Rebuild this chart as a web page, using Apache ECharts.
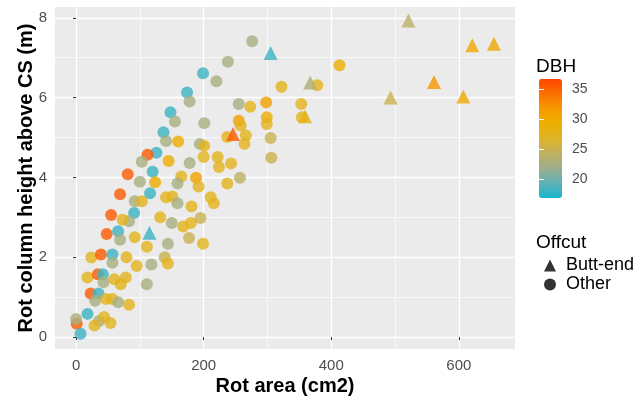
<!DOCTYPE html>
<html>
<head>
<meta charset="utf-8">
<script src="https://cdn.jsdelivr.net/npm/echarts@6/dist/echarts.min.js"></script>
<style>
  html, body { margin: 0; padding: 0; background: #fff; }
  #chart { width: 640px; height: 401px; }
</style>
</head>
<body>
<div id="chart"></div>
<script>
// Butt-end offcuts (triangles)
const buttX = [521, 621, 655, 561, 493, 607, 367, 359, 305, 246, 115];
const buttY = [7.93, 7.31, 7.35, 6.39, 6.00, 6.03, 6.38, 5.53, 7.12, 5.09, 2.61];
const buttDBH = [24, 30, 30, 32, 25, 30, 23, 28, 18, 35.5, 18];

// Other offcuts (circles)
const otherX = [276, 238, 199, 220, 322, 378, 413, 174, 178, 255,
  273, 298, 353, 354, 148, 155, 201, 255, 258, 237,
  266, 264, 299, 299, 305, 306, 137, 141, 160, 194,
  201, 126, 112, 103, 145, 178, 200, 222, 224, 243,
  81, 120, 100, 124, 165, 188, 192, 159, 237, 257,
  69, 116, 92, 103, 141, 151, 159, 181, 211, 216,
  55, 91, 83, 73, 132, 150, 168, 180, 195, 48,
  66, 69, 92, 111, 144, 177, 199, 24, 39, 57,
  57, 79, 95, 118, 139, 144, 18, 34, 42, 43,
  60, 78, 70, 111, 23, 35, 30, 47, 57, 66,
  83, 18, 36, 29, 54, 44, 1, 7, 0];
const otherY = [7.41, 6.90, 6.61, 6.41, 6.27, 6.31, 6.81, 6.13, 5.90, 5.84,
  5.77, 5.88, 5.84, 5.51, 5.63, 5.40, 5.36, 5.42, 5.30, 5.01,
  5.05, 4.84, 5.51, 5.34, 4.99, 4.49, 5.13, 4.91, 4.90, 4.84,
  4.79, 4.62, 4.57, 4.39, 4.41, 4.36, 4.51, 4.51, 4.26, 4.35,
  4.08, 4.14, 3.89, 3.88, 4.02, 3.99, 3.77, 3.85, 3.85, 3.99,
  3.58, 3.60, 3.40, 3.40, 3.50, 3.52, 3.35, 3.27, 3.50, 3.35,
  3.06, 3.11, 2.90, 2.94, 3.00, 2.86, 2.77, 2.86, 2.98, 2.58,
  2.65, 2.44, 2.50, 2.26, 2.34, 2.48, 2.34, 1.99, 2.07, 2.07,
  1.86, 2.00, 1.78, 1.82, 2.00, 1.84, 1.49, 1.57, 1.57, 1.37,
  1.45, 1.49, 1.32, 1.32, 1.09, 1.09, 0.91, 0.95, 0.95, 0.87,
  0.81, 0.58, 0.40, 0.29, 0.35, 0.50, 0.33, 0.08, 0.45];
const otherDBH = [22.5, 22.5, 18, 22.5, 27.5, 27.5, 29, 18, 22.5, 22.5,
  27.5, 31, 27.5, 27.5, 18, 22.5, 22.5, 31, 27.5, 27.5,
  27.5, 27.5, 29, 27.5, 25, 25, 18, 22.5, 29.5, 22.5,
  27.5, 18, 35.5, 22.5, 29.5, 22.5, 27.5, 27.5, 27.5, 27.5,
  35.5, 18, 22.5, 29.5, 27.5, 31, 27.5, 22.5, 27.5, 24,
  35.5, 18, 22.5, 27.5, 27.5, 27.5, 22.5, 27.5, 27.5, 27.5,
  35.5, 18, 22.5, 27.5, 27.5, 22.5, 27.5, 27.5, 25, 35.5,
  18, 22.5, 27.5, 27.5, 22.5, 25, 27.5, 27.5, 35.5, 18,
  22.5, 27.5, 27.5, 22.5, 25, 27.5, 27.5, 35.5, 18, 22.5,
  27.5, 27.5, 27.5, 22.5, 35.5, 18, 22.5, 27.5, 27.5, 22.5,
  27.5, 18, 22.5, 27.5, 27.5, 27.5, 35.5, 18, 22.5];

// axis ticks
const xTicks = [0, 200, 400, 600];
const xMinor = [100, 300, 500];
const yTicks = [0, 2, 4, 6, 8];
const yMinor = [1, 3, 5, 7];
const dbhTicks = [20, 25, 30, 35];

// DBH colour ramp
const dbhColors = ['#1BB6CF', '#5DB2B4', '#9CAE8C', '#C0B060', '#DFB427',
  '#ECB000', '#F69A00', '#FB7000', '#FF4500'];

const zip = (xs, ys, cs) => xs.map((x, i) => [x, ys[i], cs[i]]);

const FONT = 'Liberation Sans, Arial, sans-serif';
const chart = echarts.init(document.getElementById('chart'));

const majorAxis = (ticks, extra) => Object.assign({
  type: 'value',
  axisLine: { show: false },
  axisTick: { show: true, length: 3, lineStyle: { color: '#333' }, customValues: ticks },
  splitLine: { show: true, lineStyle: { color: '#fff', width: 1.3 } }
}, extra);

const minorAxis = (ticks, extra) => Object.assign({
  type: 'value',
  axisLine: { show: false },
  axisTick: { show: false, customValues: ticks },
  axisLabel: { show: false, customValues: ticks },
  splitLine: { show: true, lineStyle: { color: '#fff', width: 0.6 } }
}, extra);

const titleStyle = { fontSize: 20, fontWeight: 'bold', color: '#000', fontFamily: FONT };
const legendTitle = { fontSize: 19, fontWeight: 'normal', color: '#000', fontFamily: FONT };

chart.setOption({
  animation: false,
  textStyle: { fontFamily: FONT },
  title: [
    { text: 'DBH', left: 536, top: 57, padding: 0, textStyle: legendTitle },
    { text: 'Offcut', left: 536, top: 233, padding: 0, textStyle: legendTitle }
  ],
  grid: [
    { left: 55, right: 125, top: 7, bottom: 49, show: true, backgroundColor: '#EBEBEB', borderWidth: 0 },
    { left: 539, top: 79, width: 23, height: 119, show: false }
  ],
  xAxis: [
    majorAxis(xTicks, {
      gridIndex: 0, min: -33, max: 688,
      axisLabel: { customValues: xTicks, color: '#4D4D4D', fontSize: 15, fontFamily: FONT, margin: 9 },
      name: 'Rot area (cm2)', nameLocation: 'middle', nameGap: 27, nameMoveOverlap: false,
      nameTextStyle: titleStyle
    }),
    minorAxis(xMinor, { gridIndex: 0, min: -33, max: 688 }),
    { gridIndex: 1, type: 'value', show: false, min: 0, max: 1 }
  ],
  yAxis: [
    majorAxis(yTicks, {
      gridIndex: 0, min: -0.3, max: 8.27,
      axisLabel: { customValues: yTicks, color: '#4D4D4D', fontSize: 15, fontFamily: FONT, margin: 8 },
      name: 'Rot column height above CS (m)', nameLocation: 'middle', nameGap: 19, nameRotate: 90,
      nameMoveOverlap: false,
      nameTextStyle: titleStyle
    }),
    minorAxis(yMinor, { gridIndex: 0, min: -0.3, max: 8.27 }),
    {
      // colourbar labels
      gridIndex: 1, type: 'value', position: 'right', min: 16.8, max: 36.7, z: 10,
      axisLine: { show: false },
      axisTick: { show: true, inside: true, length: 5, lineStyle: { color: '#fff', width: 1 }, customValues: dbhTicks },
      axisLabel: { customValues: dbhTicks, color: '#4D4D4D', fontSize: 14, fontFamily: FONT, margin: 10 },
      splitLine: { show: false }
    },
    {
      gridIndex: 1, type: 'value', position: 'left', min: 16.8, max: 36.7, z: 10,
      axisLine: { show: false },
      axisTick: { show: true, inside: true, length: 5, lineStyle: { color: '#fff', width: 1 }, customValues: dbhTicks },
      axisLabel: { show: false },
      splitLine: { show: false }
    }
  ],
  visualMap: {
    type: 'continuous',
    min: 16.8, max: 36.7,
    dimension: 2,
    seriesIndex: [0, 1],
    calculable: false,
    left: 539, top: 79,
    itemWidth: 23, itemHeight: 119,
    padding: 0,
    text: null,
    inRange: { color: dbhColors }
  },
  legend: {
    orient: 'vertical',
    left: 544, top: 256,
    padding: 0,
    itemWidth: 12, itemHeight: 12, itemGap: 0,
    itemStyle: { color: '#000' },
    textStyle: { fontSize: 18, lineHeight: 19, color: '#000', fontFamily: FONT, padding: [0, 0, 0, 5] },
    data: [{ name: 'Butt-end', icon: 'triangle' }, { name: 'Other', icon: 'circle' }]
  },
  series: [
    {
      name: 'Other', type: 'scatter', xAxisIndex: 0, yAxisIndex: 0,
      symbol: 'circle', symbolSize: 12, z: 3,
      data: zip(otherX, otherY, otherDBH)
    },
    {
      name: 'Butt-end', type: 'scatter', xAxisIndex: 0, yAxisIndex: 0,
      symbol: 'triangle', symbolSize: 14, z: 4,
      data: zip(buttX, buttY, buttDBH)
    },
    { type: 'scatter', xAxisIndex: 2, yAxisIndex: 2, data: [] }
  ]
});
</script>
</body>
</html>
